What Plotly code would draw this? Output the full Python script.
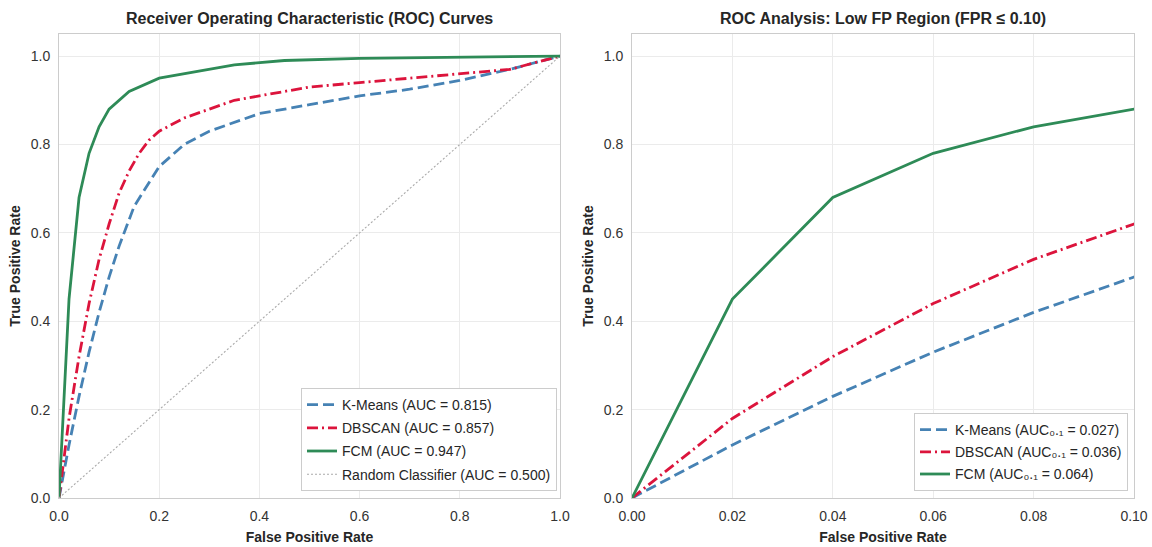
import plotly.graph_objects as go

# ---------------- data ----------------
fpr_kmeans = [0, 0.02, 0.04, 0.06, 0.08, 0.10, 0.12, 0.15, 0.20, 0.25, 0.30, 0.40, 0.50, 0.60, 0.70, 0.80, 0.90, 1.0]
tpr_kmeans = [0, 0.12, 0.23, 0.33, 0.42, 0.50, 0.57, 0.66, 0.75, 0.80, 0.83, 0.87, 0.89, 0.91, 0.925, 0.945, 0.97, 1.0]

fpr_dbscan = [0, 0.02, 0.04, 0.06, 0.08, 0.10, 0.12, 0.14, 0.16, 0.18, 0.20, 0.25, 0.30, 0.35, 0.40, 0.50, 0.60, 0.70, 0.80, 0.90, 1.0]
tpr_dbscan = [0, 0.18, 0.32, 0.44, 0.54, 0.62, 0.69, 0.74, 0.78, 0.81, 0.83, 0.86, 0.88, 0.90, 0.91, 0.93, 0.94, 0.95, 0.96, 0.97, 1.0]

fpr_fcm = [0, 0.02, 0.04, 0.06, 0.08, 0.10, 0.14, 0.20, 0.35, 0.45, 0.60, 0.80, 1.0]
tpr_fcm = [0, 0.45, 0.68, 0.78, 0.84, 0.88, 0.92, 0.95, 0.98, 0.99, 0.995, 0.998, 1.0]

fpr_random = [0, 1]
tpr_random = [0, 1]

labels_full = ["K-Means (AUC = 0.815)", "DBSCAN (AUC = 0.857)", "FCM (AUC = 0.947)",
               "Random Classifier (AUC = 0.500)"]
labels_low = ["K-Means (AUC\u2080.\u2081 = 0.027)", "DBSCAN (AUC\u2080.\u2081 = 0.036)",
              "FCM (AUC\u2080.\u2081 = 0.064)"]

titles = ["Receiver Operating Characteristic (ROC) Curves",
          "ROC Analysis: Low FP Region (FPR \u2264 0.10)"]
x_title = "False Positive Rate"
y_title = "True Positive Rate"

# ---------------- style ----------------
FONT = "Liberation Sans, Arial, sans-serif"
TXT = "#262626"
C_KM, C_DB, C_FCM = "#4682B4", "#DC143C", "#2E8B57"
LW = 2.8
DASH_KM = "11px,5px"
DASH_DB = "11px,4px,2px,4px"

fig = go.Figure()

series = [
    (fpr_kmeans, tpr_kmeans, C_KM, DASH_KM),
    (fpr_dbscan, tpr_dbscan, C_DB, DASH_DB),
    (fpr_fcm, tpr_fcm, C_FCM, "solid"),
]

for i, ((fx, ty, col, dash), name) in enumerate(zip(series, labels_full)):
    fig.add_trace(go.Scatter(x=fx, y=ty, mode="lines", name=name, legendgroup=f"a{i}",
                             line=dict(color=col, width=LW, dash=dash),
                             xaxis="x", yaxis="y", legend="legend"))
fig.add_trace(go.Scatter(x=fpr_random, y=tpr_random, mode="lines", name=labels_full[3],
                         legendgroup="a3",
                         line=dict(color="#aaaaaa", width=1.1, dash="2px,2px"),
                         xaxis="x", yaxis="y", legend="legend"))

for i, ((fx, ty, col, dash), name) in enumerate(zip(series, labels_low)):
    fig.add_trace(go.Scatter(x=fx, y=ty, mode="lines", name=name, legendgroup=f"b{i}",
                             line=dict(color=col, width=LW, dash=dash),
                             xaxis="x2", yaxis="y2", legend="legend2"))

W, H = 1152, 547
L1, R1 = 59, 560
L2, R2 = 632, 1134
TOP, BOT = 34, 498

ax_common = dict(showgrid=True, gridcolor="#ebebeb", gridwidth=1, automargin=False,
                 showline=True, linecolor="#cccccc", linewidth=1, mirror=True,
                 zeroline=False, ticks="outside", ticklen=5, tickcolor="rgba(0,0,0,0)",
                 tickfont=dict(family=FONT, size=14, color="#333333"))

title_font = dict(family=FONT, size=14, color=TXT, weight="bold")
leg_font = dict(family=FONT, size=14, color=TXT)

fig.update_layout(
    width=W, height=H,
    margin=dict(l=0, r=0, t=0, b=0),
    paper_bgcolor="white", plot_bgcolor="white",
    font=dict(family=FONT, color=TXT),
    xaxis=dict(domain=[L1 / W, R1 / W], range=[0, 1.0], tickvals=[0, 0.2, 0.4, 0.6, 0.8, 1.0],
               tickformat=".1f", title=dict(text=x_title, font=title_font, standoff=9), **ax_common),
    yaxis=dict(domain=[(H - BOT) / H, (H - TOP) / H], range=[0, 1.05],
               tickvals=[0, 0.2, 0.4, 0.6, 0.8, 1.0], tickformat=".1f",
               title=dict(text=y_title, font=title_font, standoff=6), **ax_common),
    xaxis2=dict(domain=[L2 / W, R2 / W], range=[0, 0.10], anchor="y2",
                tickvals=[0, 0.02, 0.04, 0.06, 0.08, 0.10], tickformat=".2f",
                title=dict(text=x_title, font=title_font, standoff=9), **ax_common),
    yaxis2=dict(domain=[(H - BOT) / H, (H - TOP) / H], range=[0, 1.05], anchor="x2",
                tickvals=[0, 0.2, 0.4, 0.6, 0.8, 1.0], tickformat=".1f",
                title=dict(text=y_title, font=title_font, standoff=6), **ax_common),
    legend=dict(x=557 / W, y=(H - 491) / H, xanchor="right", yanchor="bottom",
                bgcolor="white", bordercolor="#cccccc", borderwidth=1,
                font=leg_font, tracegroupgap=2, itemwidth=30),
    legend2=dict(x=1128 / W, y=(H - 491) / H, xanchor="right", yanchor="bottom",
                 bgcolor="white", bordercolor="#cccccc", borderwidth=1,
                 font=leg_font, tracegroupgap=1, itemwidth=30),
    showlegend=True,
    annotations=[
        dict(text=titles[0], x=(L1 + R1) / 2 / W, y=(H - 18) / H, xref="paper", yref="paper",
             xanchor="center", yanchor="middle", showarrow=False,
             font=dict(family=FONT, size=16, color=TXT, weight="bold")),
        dict(text=titles[1], x=(L2 + R2) / 2 / W, y=(H - 18) / H, xref="paper", yref="paper",
             xanchor="center", yanchor="middle", showarrow=False,
             font=dict(family=FONT, size=16, color=TXT, weight="bold")),
    ],
)

fig.write_html("out.html")
